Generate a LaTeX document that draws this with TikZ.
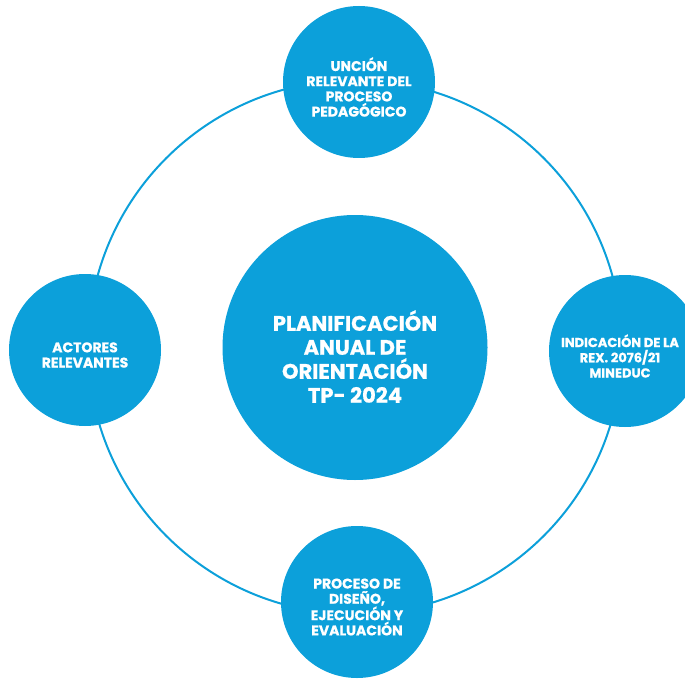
\documentclass[tikz,border=0pt]{standalone}
\usepackage{fontspec}
\setmainfont{Poppins}[BoldFeatures={FakeBold=0.8}]
\definecolor{ringblue}{RGB}{12,160,218}
\tikzset{
  bigdot/.style={circle, fill=ringblue, inner sep=0pt, minimum size=265pt},
  smalldot/.style={circle, fill=ringblue, inner sep=0pt, minimum size=152pt},
  bigtext/.style={text=white, align=center, yshift=-9pt,
    font=\fontsize{21}{24}\selectfont\bfseries},
  smalltext/.style={text=white, align=center, yshift=-5pt,
    font=\fontsize{14}{15.2}\selectfont\bfseries},
}
\begin{document}
\begin{tikzpicture}[x=1pt,y=-1pt]
    \clip (0,0) rectangle (685,679);
    \useasboundingbox (0,0) rectangle (685,679);
    \coordinate (hub) at (355,347);
    \draw [ringblue, line width=2pt] (hub) circle (267);
    \node [bigdot, label={[bigtext]center:PLANIFICACIÓN\\ANUAL DE\\ORIENTACIÓN\\TP- 2024}] (plan) at (355,347.5) {};
    \node [smalldot, label={[smalltext]center:UNCIÓN\\RELEVANTE DEL\\PROCESO\\PEDAGÓGICO}] (union) at (359,82) {};
    \node [smalldot, label={[smalltext, xshift=-5pt, font=\fontsize{13}{15.2}\selectfont\bfseries]center:INDICACIÓN DE LA\\REX. 2076/21\\MINEDUC}] (rex) at (625,351) {};
    \node [smalldot, label={[smalltext]center:ACTORES\\RELEVANTES}] (actores) at (85,350) {};
    \node [smalldot, label={[smalltext]center:PROCESO DE\\DISEÑO,\\EJECUCIÓN Y\\EVALUACIÓN}] (diseno) at (357,602) {};
\end{tikzpicture}
\end{document}
